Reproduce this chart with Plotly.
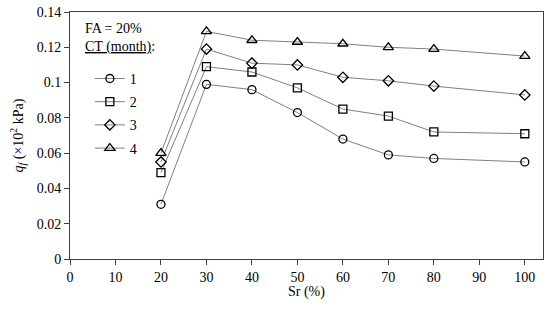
import plotly.graph_objects as go

sr = [20, 30, 40, 50, 60, 70, 80, 100]
ct1 = [0.031, 0.099, 0.096, 0.083, 0.068, 0.059, 0.057, 0.055]
ct2 = [0.049, 0.109, 0.106, 0.097, 0.085, 0.081, 0.072, 0.071]
ct3 = [0.055, 0.119, 0.111, 0.110, 0.103, 0.101, 0.098, 0.093]
ct4 = [0.060, 0.129, 0.124, 0.123, 0.122, 0.120, 0.119, 0.115]
labels = ["1", "2", "3", "4"]
symbols = ["circle-open", "square-open", "diamond-open", "triangle-up-open"]
sizes = [8, 8, 8, 9]
yticks = [0, 0.02, 0.04, 0.06, 0.08, 0.1, 0.12, 0.14]
ytext = ["0", "0.02", "0.04", "0.06", "0.08", "0.1", "0.12", "0.14"]

FONT = "Liberation Serif"
fig = go.Figure()
for i, ys in enumerate([ct1, ct2, ct3, ct4]):
    fig.add_trace(go.Scatter(
        x=sr, y=ys, name=labels[i], mode="lines+markers",
        legendgroup=labels[i],
        line=dict(color="#808080", width=1),
        marker=dict(symbol=symbols[i], size=sizes[i], color="black",
                    line=dict(color="black", width=1.3)),
    ))

fig.update_layout(
    width=550, height=320,
    margin=dict(l=70, r=7, t=12, b=61),
    paper_bgcolor="white", plot_bgcolor="white",
    font=dict(family=FONT, size=14, color="black"),
    showlegend=True,
    legend=dict(x=0.042, y=0.794, xanchor="left", yanchor="top",
                bgcolor="rgba(0,0,0,0)", tracegroupgap=2,
                font=dict(family=FONT, size=14), itemwidth=30),
    xaxis=dict(range=[0, 104], tickvals=list(range(0, 101, 10)), automargin=False,
               showgrid=False, zeroline=False, showline=True, linecolor="#404040",
               linewidth=1, mirror=True, ticks="outside", ticklen=5, tickcolor="#404040",
               tickfont=dict(family=FONT, size=14)),
    yaxis=dict(range=[0, 0.14], tickvals=yticks, ticktext=ytext, automargin=False,
               showgrid=False, zeroline=False, showline=True, linecolor="#404040",
               linewidth=1, mirror=True, ticks="outside", ticklen=5, tickcolor="#404040",
               tickfont=dict(family=FONT, size=14)),
)
fig.add_annotation(xref="paper", yref="paper", x=0.5, y=-0.134, xanchor="center", yanchor="middle",
                   text="Sr (%)", showarrow=False, font=dict(size=14))
fig.add_annotation(xref="paper", yref="paper", x=-0.11, y=0.5, xanchor="center", yanchor="middle",
                   text="<i>q<sub>f</sub></i> (×10<sup>2</sup> kPa)", showarrow=False,
                   textangle=-90, font=dict(size=14))
fig.add_annotation(xref="paper", yref="paper", x=0.0275, y=0.935, xanchor="left", yanchor="middle",
                   text="FA = 20%", showarrow=False, font=dict(size=14))
fig.add_annotation(xref="paper", yref="paper", x=0.0275, y=0.858, xanchor="left", yanchor="middle",
                   text="<u>CT (month)</u>:", showarrow=False, font=dict(size=14))
fig.write_html("out.html", config={"displayModeBar": False},
               post_script="document.body.style.margin='0px';")
